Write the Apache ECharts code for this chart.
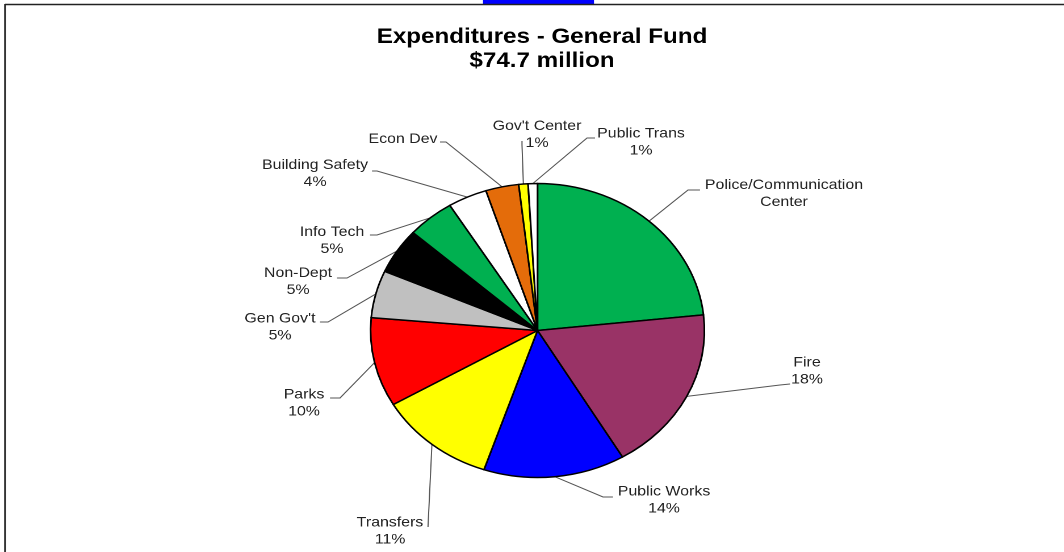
<!DOCTYPE html>
<html>
<head>
<meta charset="utf-8">
<title>Expenditures - General Fund</title>
<script src="https://cdn.jsdelivr.net/npm/echarts@6/dist/echarts.min.js"></script>
<style>
  html, body { margin: 0; padding: 0; background: #ffffff; }
  #stage { position: absolute; left: 0; top: 0; width: 1064px; height: 552px; overflow: hidden; background: #ffffff; }
  /* the drawing is laid out on a 937px-wide canvas and widened to the full page */
  #chart { width: 937px; height: 552px; transform-origin: 0 0; }
</style>
</head>
<body>
<div id="stage"><div id="chart"></div></div>
<script>
// ---- data ----
const categories = [
  'Police/Communication\nCenter', 'Fire', 'Public Works', 'Transfers', 'Parks',
  "Gen Gov't", 'Non-Dept', 'Info Tech', 'Building Safety', 'Econ Dev',
  "Gov't Center", 'Public Trans'
];
// share of the $74.7 million general fund, percent
const shares = [23.3, 18.2, 13.7, 11.4, 9.8, 5.2, 5.0, 4.6, 3.8, 3.2, 0.9, 0.9];
// whether the slice label carries its percentage
const showPercent = [false, true, true, true, true, true, true, true, true, false, true, true];
const titleLines = ['Expenditures - General Fund', '$74.7 million'];

// ---- styling ----
const sliceColors = [
  '#00b050', '#993366', '#0000ff', '#ffff00', '#ff0000', '#c0c0c0',
  '#000000', '#00b050', '#ffffff', '#e46c0a', '#ffff00', '#ffffff'
];

// horizontal stretch of the page
const SX = 1064 / 937;
document.getElementById('chart').style.transform = 'scaleX(' + SX + ')';

// pie placement in page pixels
const PIE_CX = 537.5, PIE_CY = 330.5, PIE_R = 147;

// label text centre (tx, ty), leader elbow (bx, by) and leader end (ex, ey), page pixels
const labelSpots = [
  { tx: 784, ty: 193.5, bx: 688, by: 190, ex: 700, ey: 190 },
  { tx: 807, ty: 371,   bx: 780, by: 385, ex: 790, ey: 384 },
  { tx: 664, ty: 500,   bx: 603, by: 497, ex: 613, ey: 497 },
  { tx: 390, ty: 531,   bx: 428, by: 527, ex: 428, ey: 527 },
  { tx: 304, ty: 403,   bx: 340, by: 398, ex: 330, ey: 398 },
  { tx: 280, ty: 327,   bx: 328, by: 322, ex: 320, ey: 322 },
  { tx: 298, ty: 281.5, bx: 347, by: 278, ex: 337, ey: 278 },
  { tx: 332, ty: 240.5, bx: 377, by: 235, ex: 370, ey: 235 },
  { tx: 315, ty: 173.5, bx: 377, by: 171, ex: 372, ey: 171 },
  { tx: 403, ty: 139,   bx: 446, by: 142, ex: 440, ey: 142 },
  { tx: 537, ty: 134.5, bx: 522, by: 145, ex: 522, ey: 141 },
  { tx: 641, ty: 142,   bx: 587, by: 138, ex: 595, ey: 138 }
];

const total = shares.reduce((a, b) => a + b, 0);

// point on the pie rim at the middle of slice i (canvas pixels)
function rimPoint(i) {
  let before = 0;
  for (let k = 0; k < i; k++) before += shares[k];
  const frac = (before + shares[i] / 2) / total;
  const ang = frac * Math.PI * 2;
  return [(PIE_CX + PIE_R * SX * Math.sin(ang)) / SX, PIE_CY - PIE_R * Math.cos(ang)];
}

const chart = echarts.init(document.getElementById('chart'), null, { renderer: 'canvas', devicePixelRatio: 2 });

chart.setOption({
  animation: false,
  backgroundColor: '#ffffff',
  title: {
    text: titleLines.join('\n'),
    left: 542 / SX,
    top: 25,
    padding: 0,
    textAlign: 'center',
    textStyle: {
      fontFamily: 'Liberation Sans, Arial, sans-serif',
      fontSize: 21.3,
      fontWeight: 'bold',
      lineHeight: 24,
      color: '#000000'
    }
  },
  graphic: [
    { type: 'rect', shape: { x: 483 / SX, y: 0, width: (594 - 483) / SX, height: 4 }, style: { fill: '#0000ff' }, silent: true },
    { type: 'line', shape: { x1: 5 / SX, y1: 4.5, x2: 937, y2: 4.5 }, style: { stroke: '#222222', lineWidth: 1.5 }, silent: true },
    { type: 'line', shape: { x1: 5 / SX, y1: 4, x2: 5 / SX, y2: 552 }, style: { stroke: '#222222', lineWidth: 1.5 }, silent: true }
  ],
  series: [{
    type: 'pie',
    center: [PIE_CX / SX, PIE_CY],
    radius: PIE_R,
    startAngle: 90,
    clockwise: true,
    avoidLabelOverlap: false,
    silent: true,
    data: categories.map((name, i) => ({
      name: name,
      value: shares[i],
      itemStyle: { color: sliceColors[i] }
    })),
    itemStyle: { borderColor: '#000000', borderWidth: 1.5 },
    label: {
      show: true,
      position: 'outside',
      fontFamily: 'Liberation Sans, Arial, sans-serif',
      fontSize: 14,
      lineHeight: 17,
      color: '#222222',
      align: 'center',
      formatter: function (p) {
        return showPercent[p.dataIndex] ? p.name + '\n' + Math.round(p.percent) + '%' : p.name;
      }
    },
    labelLine: {
      show: true,
      length: 10,
      length2: 10,
      smooth: false,
      lineStyle: { color: '#555555', width: 1 }
    },
    labelLayout: function (p) {
      const s = labelSpots[p.dataIndex];
      return {
        x: s.tx / SX,
        y: s.ty,
        align: 'center',
        verticalAlign: 'middle',
        labelLinePoints: [rimPoint(p.dataIndex), [s.bx / SX, s.by], [s.ex / SX, s.ey]]
      };
    }
  }]
});
</script>
</body>
</html>
